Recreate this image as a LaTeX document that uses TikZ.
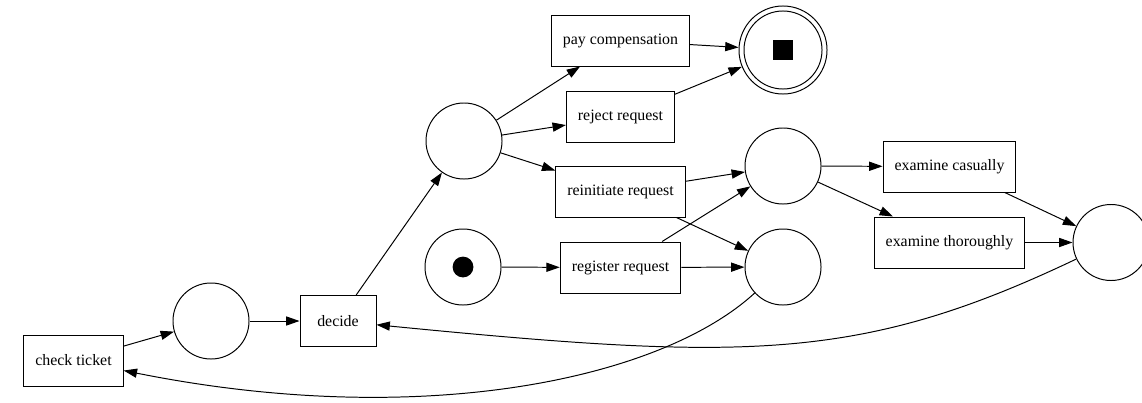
\documentclass[tikz,border=0pt]{standalone}
\usepackage{fontspec}
\setmainfont{Liberation Serif}
\usetikzlibrary{shapes.geometric, arrows.meta}
\tikzstyle{transition} = [rectangle, minimum width=1.9cm, minimum height=1.275cm, inner xsep=8.2pt, text centered, draw=black, line width=0.7pt, font=\fontsize{11.3}{13}\selectfont]
\tikzstyle{place} = [circle, minimum size=1.9cm, draw=black, line width=0.7pt]
\tikzstyle{arrow} = [line width=0.7pt,-{Triangle[length=9.5pt,width=6.5pt]}]

\begin{document}
\begin{tikzpicture}[x=0.025cm, y=-0.025cm]
\useasboundingbox (0,0) rectangle (1142,402);
% places
\node (pl1) [place] at (211,321) {};
\node (pl2) [place] at (464,141) {};
\node (start) [place] at (463,267) {};
\node [circle, fill=black, minimum size=0.52cm] at (start) {};
\node (pl3) [place] at (783,166) {};
\node (pl4) [place] at (783,267) {};
\node (pl5) [place] at (1111,242.5) {};
\node (end) [place, minimum size=2.2cm] at (783,50) {};
\node [place, minimum size=1.95cm] at (end) {};
\node [rectangle, fill=black, minimum size=0.5cm, inner sep=0pt] at (end) {};
% transitions
\node (check) [transition] at (73.5,360.5) {check ticket};
\node (decide) [transition] at (338,321) {decide};
\node (pay) [transition] at (620.5,40.5) {pay compensation};
\node (reject) [transition] at (620.5,116.5) {reject request};
\node (reinit) [transition] at (620.5,191.5) {reinitiate request};
\node (register) [transition] at (620.5,267.5) {register request};
\node (casual) [transition] at (949.5,166.5) {examine casually};
\node (thorough) [transition] at (949.5,242.5) {examine thoroughly};
% arcs
\draw [arrow] (check) -- (pl1);
\draw [arrow] (pl1) -- (decide);
\draw [arrow] (decide) -- (pl2);
\draw [arrow] (pl2) -- (pay);
\draw [arrow] (pl2) -- (reject);
\draw [arrow] (pl2) -- (reinit);
\draw [arrow] (pay) -- (end);
\draw [arrow] (reject) -- (end);
\draw [arrow] (reinit) -- (pl3);
\draw [arrow] (reinit) -- (pl4);
\draw [arrow] (start) -- (register);
\draw [arrow] (register) -- (pl3);
\draw [arrow] (register) -- (pl4);
\draw [arrow] (pl3) -- (casual);
\draw [arrow] (pl3) -- (thorough);
\draw [arrow] (casual) -- (pl5);
\draw [arrow] (thorough) -- (pl5);
\draw [arrow] (pl5) .. controls (860,362) and (746,361) .. (decide);
\draw [arrow] (pl4) .. controls (660,380) and (420,430) .. (check);
\end{tikzpicture}
\end{document}
